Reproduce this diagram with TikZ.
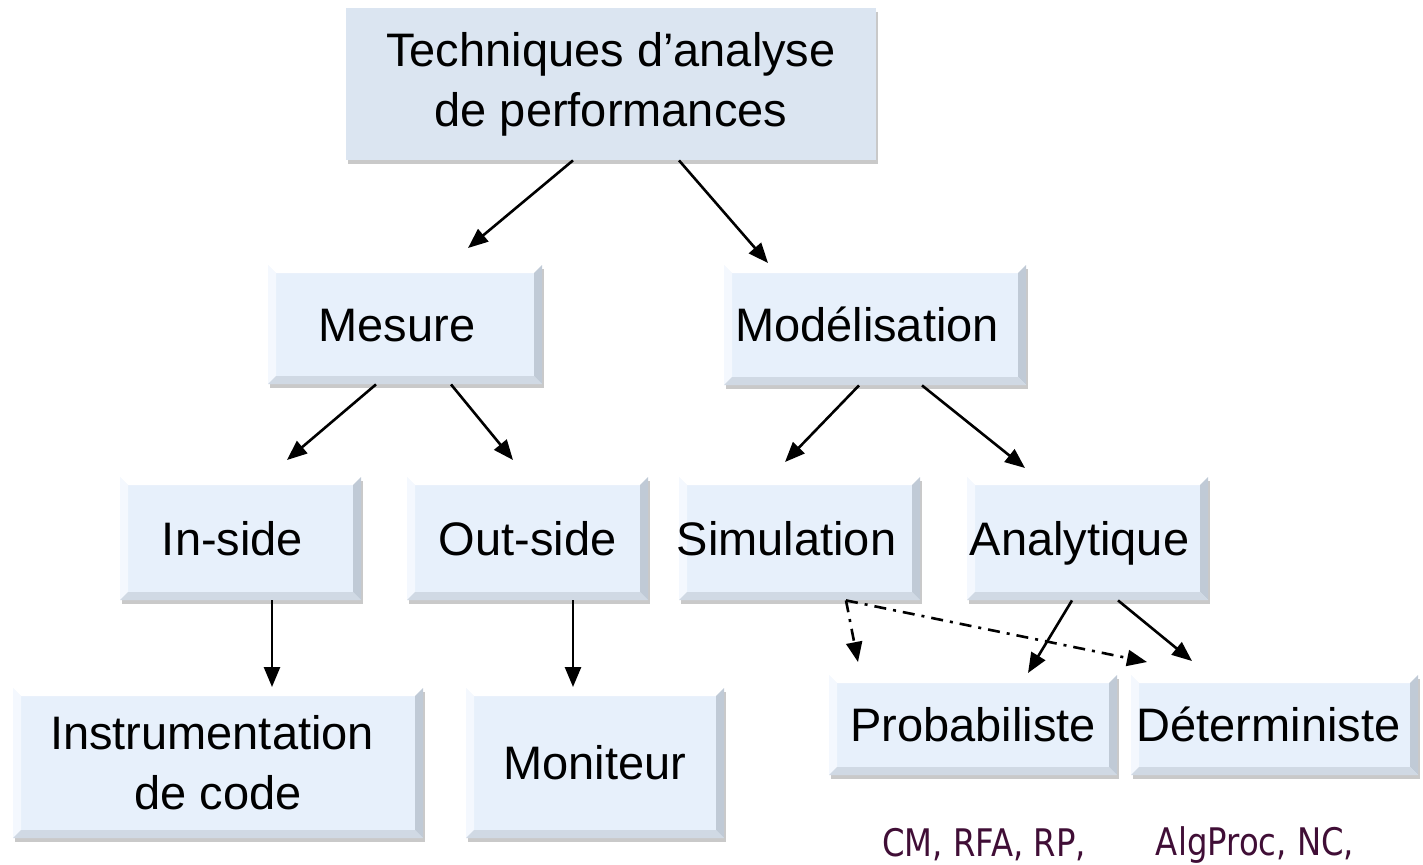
\documentclass[tikz,border=0pt]{standalone}
\usepackage{fontspec}
\setmainfont{Liberation Sans}
\newfontfamily\notefont[FakeStretch=0.85]{DejaVu Sans}
\usetikzlibrary{shadows,arrows.meta,calc}
\definecolor{boxfill}{HTML}{E7F0FB}
\definecolor{topfill}{HTML}{DBE5F1}
\definecolor{bevright}{HTML}{C0CAD6}
\definecolor{bevbottom}{HTML}{D0D9E4}
\definecolor{bevleft}{HTML}{F4F8FE}
\definecolor{notecol}{RGB}{64,14,54}
\tikzset{
  boxbase/.style={inner sep=0pt, align=center, font=\fontsize{23.5}{30}\selectfont,
    drop shadow={shadow xshift=1.2pt, shadow yshift=-2.2pt, opacity=0.3, fill=black!70}},
  bevel/.style={path picture={
      \coordinate (pnw) at (path picture bounding box.north west);
      \coordinate (pne) at (path picture bounding box.north east);
      \coordinate (psw) at (path picture bounding box.south west);
      \coordinate (pse) at (path picture bounding box.south east);
      \fill[white] (pnw) -- (pne) -- ([shift={(-4pt,-4pt)}]pne) -- ([shift={(4pt,-4pt)}]pnw) -- cycle;
      \fill[bevleft] (pnw) -- ([shift={(4pt,-4pt)}]pnw) -- ([shift={(4pt,4pt)}]psw) -- (psw) -- cycle;
      \fill[bevright] (pne) -- (pse) -- ([shift={(-4pt,4pt)}]pse) -- ([shift={(-4pt,-4pt)}]pne) -- cycle;
      \fill[bevbottom] (psw) -- (pse) -- ([shift={(-4pt,4pt)}]pse) -- ([shift={(4pt,4pt)}]psw) -- cycle;
    }},
  box/.style={boxbase, fill=boxfill, bevel},
  oneline/.style={text height=16.8pt, text depth=0pt},
  topbox/.style={boxbase, fill=topfill},
  arr/.style={-{Triangle[length=10pt,width=8pt]}, line width=1.3pt},
  dasharr/.style={arr, dash pattern=on 6pt off 3.5pt on 1.5pt off 3.5pt},
  note/.style={inner sep=0pt, text=notecol, font=\notefont\fontsize{19}{23}\selectfont}
}
\begin{document}
\begin{tikzpicture}[x=0.5pt,y=-0.5pt]
\useasboundingbox (0,0) rectangle (1423,864);

% boxes
\node[topbox, minimum width=265pt, minimum height=76pt] (top) at (611,84) {Techniques d'analyse\\de performances};
\node[box, oneline, minimum width=137pt, minimum height=59.5pt] (mes) at (405,324.5) {\hspace*{-8pt}Mesure};
\node[box, oneline, minimum width=151pt, minimum height=60pt] (mod) at (875,325) {\hspace*{-8pt}Modélisation};
\node[box, oneline, minimum width=120.5pt, minimum height=61.5pt] (ins) at (240.5,538.5) {\hspace*{-8pt}In-side};
\node[box, oneline, minimum width=120.5pt, minimum height=61.5pt] (out) at (527.5,538.5) {Out-side};
\node[box, oneline, minimum width=120.5pt, minimum height=61.5pt] (sim) at (799.5,538.5) {\hspace*{-13pt}Simulation};
\node[box, oneline, minimum width=120.5pt, minimum height=61.5pt] (ana) at (1087.5,538.5) {\hspace*{-8pt}Analytique};
\node[box, minimum width=205pt, minimum height=75pt] (ins2) at (218,763) {\hspace*{-6pt}Instrumentation\\de code};
\node[box, oneline, minimum width=129pt, minimum height=75pt] (mon) at (595,763) {Moniteur};
\node[box, oneline, minimum width=144pt, minimum height=50pt] (pro) at (973,725) {Probabiliste};
\node[box, oneline, minimum width=143.5pt, minimum height=50pt] (det) at (1274.5,725) {\hspace*{-6pt}Déterministe};

% notes
\node[note] (n1) at (984,845) {CM, RFA, RP,};
\node[note] (n2) at (1255,845) {AlgProc, NC,};

% arrow ends
\coordinate (e1) at (468,248);
\coordinate (e2) at (768,263);
\coordinate (e3) at (287,460);
\coordinate (e4) at (513,460);
\coordinate (e5) at (785,462);
\coordinate (e6) at (1025,468);
\coordinate (e7) at (272,687);
\coordinate (e8) at (573,687);
\coordinate (e9) at (1028,673);
\coordinate (e10) at (1192,661);
\coordinate (e11) at (858,662);
\coordinate (e12) at (1147,662);

\draw[arr] (573,0 |- top.south) -- (e1);
\draw[arr] (679,0 |- top.south) -- (e2);
\draw[arr] (376,0 |- mes.south) -- (e3);
\draw[arr] (451,0 |- mes.south) -- (e4);
\draw[arr] (859,0 |- mod.south) -- (e5);
\draw[arr] (922,0 |- mod.south) -- (e6);
\draw[arr] (272,0 |- ins.south) -- (e7);
\draw[arr] (573,0 |- out.south) -- (e8);
\draw[arr] (1072,0 |- ana.south) -- (e9);
\draw[arr] (1118,0 |- ana.south) -- (e10);
\draw[dasharr] (846,0 |- sim.south) -- (e11);
\draw[dasharr] (846,0 |- sim.south) -- (e12);
\end{tikzpicture}
\end{document}
